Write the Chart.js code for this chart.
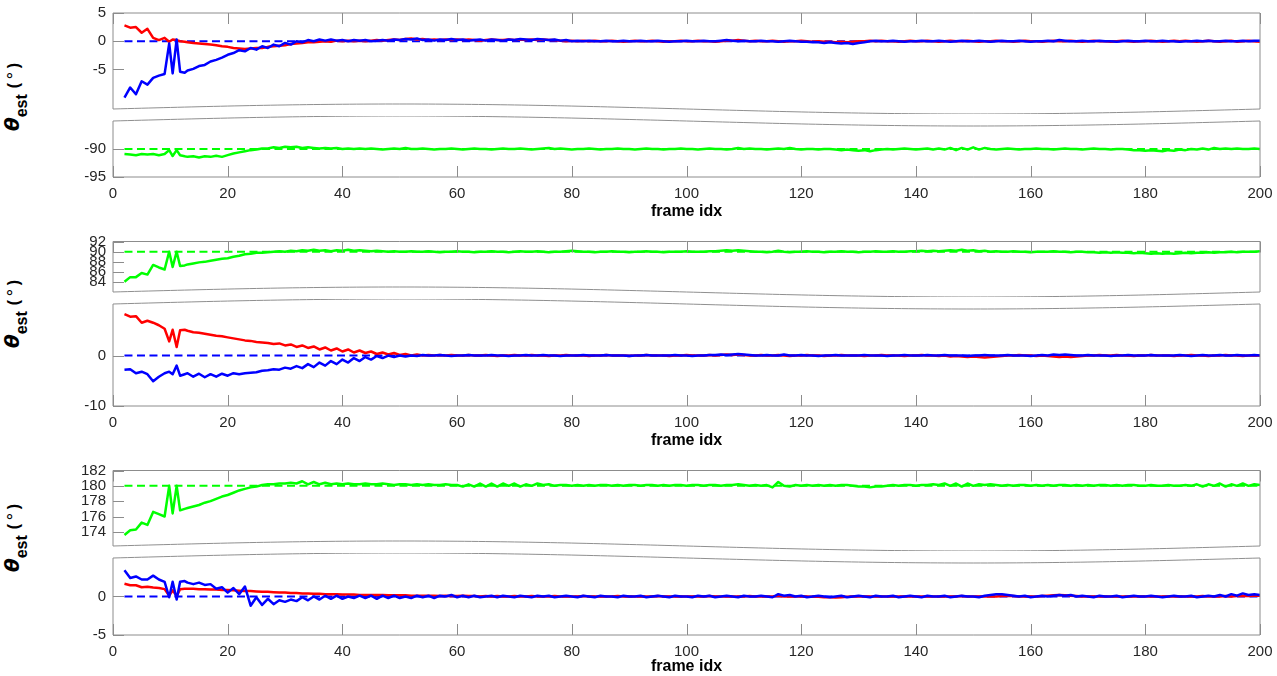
<!DOCTYPE html>
<html>
<head>
<meta charset="utf-8">
<script src="https://cdn.jsdelivr.net/npm/chart.js@4.4.1/dist/chart.umd.min.js"></script>
<style>
  html, body { margin: 0; padding: 0; background: #fff; overflow: hidden; }
  body { width: 1277px; height: 676px; position: relative; }
  canvas { position: absolute; left: 0; }
  .ylab {
    position: absolute;
    transform: translate(-50%, -50%) rotate(-90deg);
    white-space: nowrap;
    line-height: 22px;
    font: bold 20px 'DejaVu Sans', sans-serif;
    color: #000;
  }
  .ylab .th { font-style: italic; }
  .ylab .sb { font: bold 16px 'Liberation Sans', Arial, sans-serif; position: relative; top: 8px; }
  .ylab .pr { font: bold 16px 'Liberation Sans', Arial, sans-serif; margin-left: 6px; }
  .ylab .dg { font: 17px 'DejaVu Sans', sans-serif; position: relative; top: -4px; margin: 0 2px; }
</style>
</head>
<body>
<div class="ylab" style="left:12px;top:97px"><span class="th">θ</span><span class="sb">est</span><span class="pr">(<span class="dg">∘</span>)</span></div>
<div class="ylab" style="left:12px;top:314px"><span class="th">θ</span><span class="sb">est</span><span class="pr">(<span class="dg">∘</span>)</span></div>
<div class="ylab" style="left:12px;top:538px"><span class="th">θ</span><span class="sb">est</span><span class="pr">(<span class="dg">∘</span>)</span></div>
<script>
// frame index of every sample (a few extra samples around the spike at 10-12)
const frames = [2, 3, 4, 5, 6, 7, 8, 9, 9.8, 10.4, 11.1, 11.7, 12.5];
for (let f = 13; f <= 200; f++) frames.push(f);
const refFrames = [2, 200];
const xTicks = [0, 20, 40, 60, 80, 100, 120, 140, 160, 180, 200];

// reference (ground truth) levels, upper / lower part of each panel
const p1Refs = [0, -90];
const p2Refs = [90, 0];
const p3Refs = [180, 0];

// tick labels
const p1UpperTicks = [-5, 0, 5];
const p1LowerTicks = [-95, -90];
const p2UpperTicks = [84, 86, 88, 90, 92];
const p2LowerTicks = [-10, 0];
const p3UpperTicks = [174, 176, 178, 180, 182];
const p3LowerTicks = [-5, 0];

// panel 1
const p1Red = [
  2.8, 2.4, 2.5, 1.5, 2.2, 0.6, 0.2, 0.6, -0.1, 0.3, 0.2, 0.0, -0.1,
  -0.2, -0.3, -0.4, -0.5, -0.6, -0.7, -0.9, -1.0, -1.2, -1.3,
  -1.4, -1.3, -1.2, -1.2, -1.0, -0.9, -0.8, -0.7, -0.5, -0.4,
  -0.3, -0.2, -0.2, -0.1, 0.0, -0.1, 0.1, 0.0, 0.1, 0.0,
  0.1, 0.0, 0.1, 0.2, 0.1, 0.2, 0.3, 0.2, 0.4, 0.5,
  0.3, 0.4, 0.2, 0.3, 0.2, 0.3, 0.2, 0.3, 0.2, 0.3,
  0.2, 0.1, 0.2, 0.3, 0.2, 0.2, 0.3, 0.2, 0.3, 0.2,
  0.3, 0.2, 0.3, 0.2, 0.2, 0.1, 0.0, 0.1, 0.0, 0.1,
  0.0, 0.1, 0.0, 0.0, 0.1, 0.0, -0.1, 0.0, 0.1, 0.0,
  0.0, 0.1, 0.0, -0.1, 0.0, 0.0, 0.1, 0.0, 0.0, 0.1,
  0.0, 0.0, -0.1, 0.0, 0.1, 0.1, 0.2, 0.1, 0.0, 0.1,
  0.0, 0.0, 0.1, 0.0, -0.1, 0.0, 0.0, 0.1, 0.0, -0.1,
  0.0, -0.1, -0.1, -0.2, -0.1, -0.2, -0.1, 0.0, 0.0, 0.1,
  0.0, 0.1, 0.0, 0.0, -0.1, 0.0, 0.1, 0.0, 0.0, 0.1,
  0.0, -0.1, 0.0, 0.1, 0.0, 0.0, 0.1, 0.0, -0.1, 0.0,
  0.0, 0.1, 0.0, 0.0, -0.1, 0.0, 0.1, 0.0, 0.0, -0.1,
  0.0, 0.1, 0.0, 0.0, 0.1, 0.0, -0.1, 0.0, 0.1, 0.0,
  0.0, -0.1, 0.0, 0.1, 0.0, -0.1, 0.0, 0.0, 0.1, 0.0,
  -0.1, 0.0, 0.1, 0.0, 0.1, 0.0, -0.1, 0.0, 0.1, 0.0,
  -0.1, 0.0, 0.1, -0.1, 0.0, 0.1, 0.0, -0.1
];
const p1Blue = [
  -10.0, -8.2, -9.4, -7.1, -7.7, -6.5, -6.1, -5.8, -0.4, -5.7, 0.3, -5.4, -5.6,
  -5.2, -4.9, -4.4, -4.2, -3.6, -3.3, -2.9, -2.4, -2.1, -1.6,
  -1.8, -1.2, -1.5, -0.9, -1.2, -0.6, -0.9, -0.3, -0.6, 0.0,
  -0.2, 0.2, 0.0, 0.3, 0.1, 0.3, 0.1, 0.2, 0.0, 0.2,
  0.1, 0.2, 0.0, 0.1, 0.2, 0.1, 0.3, 0.2, 0.4, 0.3,
  0.5, 0.2, 0.3, 0.1, 0.3, 0.2, 0.4, 0.2, 0.3, 0.1,
  0.2, 0.3, 0.1, 0.3, 0.2, 0.1, 0.3, 0.2, 0.4, 0.3,
  0.2, 0.4, 0.3, 0.2, 0.3, 0.1, 0.2, 0.0, 0.1, 0.0,
  0.1, 0.0, 0.0, 0.1, 0.0, 0.0, 0.1, 0.0, 0.0, 0.1,
  0.0, 0.0, 0.1, 0.0, -0.1, 0.0, 0.0, 0.1, 0.0, 0.0,
  0.1, 0.0, 0.0, 0.1, 0.2, 0.1, 0.0, 0.1, 0.0, 0.0,
  0.1, 0.0, 0.0, -0.1, 0.0, 0.1, 0.0, -0.1, -0.1, -0.2,
  -0.2, -0.3, -0.2, -0.3, -0.4, -0.3, -0.5, -0.3, -0.2, 0.0,
  0.1, 0.0, 0.0, 0.1, 0.0, -0.1, 0.0, 0.0, 0.1, 0.0,
  0.0, 0.1, 0.0, -0.1, 0.0, 0.1, 0.0, 0.0, 0.1, 0.0,
  -0.1, 0.0, 0.1, 0.0, 0.0, 0.1, 0.0, -0.1, 0.0, 0.0,
  0.1, 0.0, 0.2, 0.1, 0.0, 0.0, 0.1, 0.0, 0.0, 0.1,
  0.0, 0.0, -0.1, 0.0, 0.1, 0.0, 0.0, 0.1, 0.0, 0.0,
  0.1, 0.0, 0.0, -0.1, 0.0, 0.0, 0.1, 0.0, 0.1, 0.0,
  0.0, 0.1, 0.0, 0.0, 0.1, 0.0, 0.1, 0.1
];
const p1Green = [
  -90.9, -91.0, -91.1, -90.9, -91.0, -90.9, -91.1, -90.9, -90.2, -91.25, -90.2, -91.1, -91.3,
  -91.4, -91.3, -91.5, -91.3, -91.4, -91.2, -91.4, -91.1, -90.8, -90.6,
  -90.4, -90.2, -90.1, -89.9, -89.9, -89.7, -89.8, -89.6, -89.7, -89.6,
  -89.8, -89.7, -89.8, -89.9, -89.8, -89.9, -89.8, -90.0, -89.9, -90.0,
  -89.9, -90.0, -89.9, -90.0, -90.1, -90.0, -89.9, -90.0, -89.8, -90.0,
  -90.0, -89.9, -90.0, -90.1, -90.0, -90.0, -89.9, -90.0, -90.1, -90.0,
  -89.9, -90.0, -90.0, -90.1, -90.0, -89.9, -90.0, -90.0, -89.9, -90.0,
  -90.1, -90.0, -89.9, -89.8, -90.0, -89.9, -90.0, -90.1, -90.0, -90.0,
  -89.9, -90.0, -90.1, -90.0, -90.0, -89.9, -90.0, -90.0, -90.1, -90.0,
  -89.9, -90.0, -90.0, -90.1, -90.0, -90.0, -89.9, -90.0, -90.0, -90.1,
  -90.0, -89.9, -90.0, -90.0, -90.1, -90.0, -89.8, -90.0, -89.9, -90.0,
  -90.0, -90.1, -90.0, -89.9, -90.0, -89.8, -90.0, -90.1, -90.0, -90.0,
  -90.1, -90.0, -90.0, -90.1, -90.2, -90.1, -90.2, -90.3, -90.2, -90.4,
  -90.2, -90.1, -90.0, -90.1, -90.0, -89.9, -90.0, -90.1, -90.0, -89.9,
  -90.1, -89.9, -90.1, -89.8, -90.2, -89.8, -90.1, -89.7, -90.1, -89.8,
  -90.0, -90.1, -90.0, -89.9, -90.0, -90.1, -90.0, -90.0, -89.9, -90.0,
  -90.0, -90.1, -90.0, -89.9, -90.0, -90.0, -90.1, -90.0, -89.9, -90.0,
  -90.0, -90.1, -90.0, -90.0, -90.1, -90.2, -90.2, -90.3, -90.2, -90.3,
  -90.4, -90.2, -90.3, -90.1, -90.2, -90.0, -90.1, -89.9, -90.1, -89.8,
  -90.0, -89.9, -90.0, -89.9, -90.0, -90.0, -89.9, -90.0
];

// panel 2
const p2Green = [
  84.1, 85.0, 85.0, 85.8, 85.5, 87.4, 86.9, 86.5, 90.0, 87.0, 90.0, 87.2, 87.3,
  87.5, 87.7, 87.9, 88.0, 88.2, 88.4, 88.6, 88.7, 89.0, 89.2,
  89.5, 89.6, 89.8, 89.8, 89.9, 90.0, 90.1, 90.0, 90.2, 90.1,
  90.3, 90.2, 90.4, 90.2, 90.3, 90.1, 90.3, 90.2, 90.4, 90.2,
  90.3, 90.2, 90.1, 90.2, 90.1, 90.0, 90.1, 90.0, 90.0, 90.1,
  90.0, 90.0, 90.1, 90.0, 89.9, 90.0, 90.0, 90.1, 90.0, 90.0,
  89.9, 90.0, 90.0, 90.1, 90.0, 90.0, 89.9, 90.0, 90.1, 90.0,
  90.0, 90.1, 90.0, 89.9, 90.0, 90.0, 90.1, 90.2, 90.1, 90.0,
  90.0, 89.9, 90.0, 90.0, 90.1, 90.0, 90.0, 89.9, 90.0, 90.0,
  90.1, 90.0, 90.0, 89.9, 90.0, 90.0, 90.0, 90.1, 90.0, 90.0,
  90.0, 90.1, 90.1, 90.2, 90.3, 90.2, 90.3, 90.2, 90.1, 90.0,
  90.0, 89.9, 90.0, 90.2, 90.0, 89.9, 90.0, 90.0, 90.1, 90.0,
  90.0, 89.9, 90.0, 90.0, 90.1, 90.0, 90.0, 89.9, 90.0, 90.0,
  90.1, 90.0, 90.0, 90.1, 90.0, 90.0, 90.1, 90.1, 90.2, 90.1,
  90.2, 90.1, 90.2, 90.3, 90.2, 90.4, 90.2, 90.3, 90.1, 90.2,
  90.0, 90.1, 90.0, 90.0, 90.1, 90.0, 90.0, 89.9, 90.0, 90.0,
  90.0, 90.1, 90.0, 90.0, 89.9, 90.0, 90.0, 89.9, 89.9, 89.8,
  89.9, 89.8, 89.9, 89.8, 89.8, 89.7, 89.8, 89.7, 89.6, 89.7,
  89.6, 89.7, 89.6, 89.7, 89.8, 89.7, 89.8, 89.8, 89.9, 89.8,
  89.9, 89.9, 90.0, 89.9, 90.0, 90.0, 90.0, 90.1
];
const p2Red = [
  8.2, 7.7, 7.8, 6.5, 6.9, 6.5, 6.0, 5.3, 2.8, 5.1, 1.7, 5.0, 5.1,
  4.9, 4.6, 4.5, 4.3, 4.1, 3.9, 3.8, 3.6, 3.4, 3.2,
  3.0, 2.9, 2.7, 2.6, 2.5, 2.3, 2.4, 2.0, 2.2, 1.7,
  2.0, 1.5, 1.8, 1.2, 1.6, 1.0, 1.4, 0.8, 1.2, 0.6,
  1.0, 0.5, 0.8, 0.3, 0.6, 0.2, 0.5, 0.1, 0.3, 0.0,
  0.2, 0.0, 0.1, 0.0, 0.1, 0.0, 0.1, 0.0, 0.0, 0.1,
  0.0, 0.0, 0.1, 0.0, -0.1, 0.0, 0.0, 0.1, 0.0, 0.0,
  0.1, 0.0, 0.0, -0.1, 0.0, 0.0, 0.1, 0.0, 0.0, 0.0,
  -0.1, 0.0, 0.0, 0.1, 0.0, 0.0, 0.0, -0.1, 0.0, 0.0,
  0.1, 0.0, 0.0, 0.0, -0.1, 0.0, 0.0, 0.1, 0.0, 0.0,
  0.0, 0.1, 0.0, 0.1, 0.2, 0.1, 0.2, 0.1, 0.0, 0.0,
  0.1, 0.0, 0.0, 0.1, 0.0, -0.1, 0.0, 0.0, 0.1, 0.0,
  0.0, -0.1, 0.0, 0.0, 0.1, 0.0, 0.0, 0.0, -0.1, 0.0,
  0.0, 0.1, 0.0, 0.0, 0.0, -0.1, 0.0, 0.0, 0.1, 0.0,
  0.0, -0.1, 0.0, -0.2, -0.1, -0.2, -0.3, -0.2, -0.3, -0.4,
  -0.3, -0.2, -0.1, 0.0, 0.0, 0.1, 0.0, 0.0, -0.1, 0.0,
  -0.1, -0.2, -0.3, -0.2, -0.3, -0.2, -0.1, 0.0, 0.0, 0.1,
  0.0, 0.0, 0.1, 0.0, 0.0, -0.1, 0.0, 0.0, 0.1, 0.0,
  0.0, 0.0, -0.1, 0.0, 0.0, 0.1, 0.0, 0.0, -0.1, 0.0,
  0.0, 0.1, 0.0, 0.0, -0.1, 0.0, 0.0, 0.0
];
const p2Blue = [
  -2.8, -2.7, -3.5, -3.2, -3.7, -5.1, -4.2, -3.5, -3.2, -3.7, -2.0, -4.0, -3.7,
  -3.5, -4.2, -3.6, -4.3, -3.7, -4.2, -3.6, -4.0, -3.5, -3.7,
  -3.5, -3.4, -3.3, -3.0, -2.9, -2.7, -2.8, -2.4, -2.6, -2.1,
  -2.5, -1.7, -2.3, -1.4, -2.0, -1.1, -1.7, -0.8, -1.4, -0.5,
  -1.1, -0.3, -0.8, -0.1, -0.5, 0.0, -0.3, 0.0, -0.2, 0.0,
  -0.1, 0.1, 0.0, 0.0, 0.1, 0.0, -0.1, 0.0, 0.0, 0.1,
  0.0, 0.0, 0.0, 0.1, 0.0, 0.0, -0.1, 0.0, 0.0, 0.1,
  0.0, 0.0, 0.1, 0.0, 0.0, -0.1, 0.0, 0.0, 0.0, 0.1,
  0.0, 0.0, 0.0, 0.1, 0.0, 0.0, 0.0, -0.1, 0.0, 0.0,
  0.1, 0.0, 0.0, 0.0, 0.0, 0.1, 0.0, 0.0, -0.1, 0.0,
  0.0, 0.1, 0.1, 0.2, 0.1, 0.2, 0.3, 0.2, 0.1, 0.0,
  0.0, 0.1, 0.0, 0.0, 0.2, 0.0, 0.0, 0.1, 0.0, 0.0,
  -0.1, 0.0, 0.0, 0.1, 0.0, 0.0, 0.0, 0.0, 0.1, 0.0,
  0.0, 0.0, -0.1, 0.0, 0.0, 0.1, 0.0, 0.0, 0.0, 0.1,
  0.0, 0.0, 0.1, 0.0, 0.0, 0.0, -0.1, 0.0, 0.0, 0.1,
  0.0, 0.0, 0.0, 0.1, 0.0, 0.0, 0.0, -0.1, 0.0, 0.1,
  0.0, 0.2, 0.1, 0.2, 0.1, 0.0, 0.0, 0.1, 0.0, 0.0,
  0.0, -0.1, 0.0, 0.0, 0.1, 0.0, 0.0, 0.0, 0.1, 0.0,
  0.0, 0.0, 0.0, 0.1, 0.0, -0.1, 0.0, 0.1, 0.0, 0.0,
  0.1, 0.0, 0.0, 0.1, 0.0, 0.0, 0.1, 0.0
];

// panel 3
const p3Green = [
  173.6, 174.2, 174.3, 175.2, 174.9, 176.6, 176.3, 176.0, 180.0, 176.4, 180.0, 176.8, 177.0,
  177.1, 177.3, 177.5, 177.8, 178.0, 178.3, 178.6, 178.8, 179.1, 179.4,
  179.6, 179.8, 179.9, 180.1, 180.2, 180.2, 180.3, 180.3, 180.4, 180.3,
  180.6, 180.2, 180.5, 180.2, 180.4, 180.2, 180.3, 180.2, 180.3, 180.2,
  180.2, 180.3, 180.2, 180.2, 180.3, 180.2, 180.1, 180.2, 180.2, 180.1,
  180.2, 180.1, 180.2, 180.1, 180.1, 180.2, 180.1, 180.1, 179.9, 180.2,
  179.9, 180.3, 179.9, 180.3, 179.9, 180.3, 180.0, 180.3, 179.9, 180.2,
  180.0, 180.3, 180.1, 180.2, 180.0, 180.1, 180.1, 180.0, 180.1, 180.0,
  180.1, 180.0, 180.1, 180.1, 180.0, 180.1, 180.0, 180.1, 180.1, 180.0,
  180.1, 180.1, 180.0, 180.1, 180.0, 180.1, 180.1, 180.0, 180.1, 180.1,
  180.0, 180.1, 180.1, 180.0, 180.1, 180.1, 180.2, 180.1, 180.0, 180.1,
  180.0, 180.1, 179.8, 180.5, 180.0, 179.9, 180.1, 180.0, 180.1, 180.0,
  180.1, 180.0, 180.1, 180.0, 180.1, 180.1, 180.0, 179.9, 179.9, 179.8,
  179.9, 179.9, 180.0, 180.1, 180.0, 180.1, 180.1, 180.0, 180.1, 180.1,
  180.2, 180.1, 180.3, 180.0, 180.3, 179.9, 180.3, 180.0, 180.2, 180.1,
  180.2, 180.1, 180.0, 180.1, 180.0, 180.1, 180.1, 180.0, 180.1, 180.0,
  180.1, 180.0, 180.1, 180.1, 180.0, 180.1, 180.0, 180.1, 180.0, 180.1,
  180.1, 180.0, 180.1, 180.0, 180.1, 180.1, 180.0, 180.0, 180.1, 180.0,
  180.0, 180.1, 180.0, 180.0, 180.1, 180.0, 180.2, 179.9, 180.2, 180.0,
  180.3, 179.9, 180.2, 180.0, 180.3, 180.0, 180.2, 180.1
];
const p3Red = [
  1.65, 1.45, 1.45, 1.2, 1.25, 1.15, 1.1, 0.95, 0.1, 0.8, 0.05, 0.95, 1.0,
  1.0, 1.0, 0.95, 0.95, 0.9, 0.9, 0.85, 0.85, 0.8, 0.75,
  0.7, 0.7, 0.65, 0.6, 0.6, 0.55, 0.5, 0.5, 0.45, 0.45,
  0.4, 0.4, 0.35, 0.35, 0.3, 0.3, 0.3, 0.25, 0.25, 0.25,
  0.2, 0.2, 0.2, 0.2, 0.2, 0.15, 0.15, 0.15, 0.15, 0.1,
  0.1, 0.1, 0.1, 0.1, 0.05, 0.1, 0.05, 0.05, 0.1, 0.05,
  0.05, 0.0, 0.05, 0.0, 0.05, 0.0, 0.0, 0.05, 0.0, 0.0,
  0.05, 0.0, 0.0, 0.0, 0.05, 0.0, 0.0, 0.0, 0.0, 0.05,
  0.0, 0.0, 0.0, 0.0, 0.0, 0.05, 0.0, 0.0, 0.0, 0.0,
  0.0, 0.0, 0.05, 0.0, 0.0, 0.0, 0.0, 0.0, 0.0, 0.0,
  0.0, 0.05, 0.0, 0.0, 0.0, 0.0, 0.0, 0.0, 0.05, 0.0,
  0.0, 0.0, 0.0, 0.1, 0.0, 0.0, 0.0, 0.0, 0.0, -0.05,
  -0.05, -0.1, -0.1, -0.15, -0.1, -0.05, 0.0, 0.0, 0.0, 0.0,
  0.0, 0.0, 0.0, 0.0, 0.0, 0.0, 0.0, 0.0, 0.0, 0.0,
  0.0, 0.0, 0.0, 0.0, 0.0, 0.05, 0.0, 0.0, 0.0, 0.0,
  0.0, 0.0, 0.05, 0.1, 0.05, 0.0, 0.0, 0.0, 0.0, 0.05,
  0.1, 0.15, 0.2, 0.15, 0.1, 0.05, 0.0, 0.0, 0.0, 0.0,
  0.0, 0.0, 0.0, 0.0, 0.0, 0.0, 0.0, 0.0, 0.0, 0.0,
  0.0, 0.0, 0.0, 0.0, 0.0, 0.0, 0.0, 0.05, 0.0, 0.0,
  0.0, 0.05, 0.0, 0.05, 0.1, 0.05, 0.1, 0.1
];
const p3Blue = [
  3.4, 2.4, 2.6, 2.2, 2.2, 2.7, 2.2, 1.9, -0.1, 1.9, -0.4, 1.9, 2.0,
  1.8, 1.6, 1.8, 1.5, 1.6, 1.0, 1.2, 0.5, 1.1, 0.3,
  1.3, -1.2, -0.1, -1.1, -0.3, -1.0, -0.5, -0.7, -0.4, -0.6,
  -0.1, -0.5, 0.0, -0.4, 0.1, -0.3, 0.1, -0.3, 0.0, -0.2,
  0.1, -0.2, 0.1, -0.3, 0.1, -0.2, 0.1, -0.2, 0.0, -0.2,
  0.1, -0.1, 0.1, -0.2, 0.1, 0.0, 0.2, -0.1, 0.1, -0.1,
  0.1, -0.1, 0.0, 0.1, -0.1, 0.1, 0.0, -0.1, 0.1, 0.0,
  -0.1, 0.1, 0.0, 0.1, -0.1, 0.0, 0.1, 0.0, -0.1, 0.1,
  0.0, -0.1, 0.1, 0.0, 0.0, -0.1, 0.1, 0.0, 0.0, 0.1,
  -0.1, 0.0, 0.1, 0.0, -0.1, 0.1, 0.0, 0.0, -0.1, 0.1,
  0.0, 0.1, -0.1, 0.0, 0.1, 0.0, -0.1, 0.1, 0.0, 0.0,
  0.1, 0.0, -0.1, 0.3, 0.1, 0.2, 0.0, 0.1, -0.1, 0.0,
  0.1, 0.0, -0.1, 0.0, 0.1, -0.1, 0.0, 0.1, 0.0, -0.1,
  0.1, 0.0, 0.0, 0.1, -0.1, 0.0, 0.1, 0.0, -0.1, 0.1,
  0.0, 0.0, 0.1, -0.1, 0.0, 0.1, 0.0, 0.0, -0.1, 0.1,
  0.2, 0.3, 0.3, 0.2, 0.1, 0.0, 0.1, -0.1, 0.0, 0.1,
  0.0, 0.1, 0.2, 0.1, 0.2, 0.0, 0.1, 0.0, -0.1, 0.1,
  0.0, 0.0, 0.1, -0.1, 0.0, 0.1, 0.0, 0.0, 0.1, 0.0,
  -0.1, 0.0, 0.1, 0.0, 0.0, 0.1, -0.1, 0.0, 0.1, 0.0,
  0.2, 0.0, 0.3, 0.1, 0.4, 0.2, 0.3, 0.2
];

const RED = '#ff0000', BLUE = '#0000ff', GREEN = '#00ff00';
const FONT = "'Liberation Sans', Arial, Helvetica, sans-serif";
const AXIS_GRAY = '#8c8c8c';
const AREA_LEFT = 113, AREA_RIGHT_PAD = 17, TICK_LEN = 11, WAVE_AMP = 5;

// draws the axes box, inward ticks and the wavy break edge
const framePlugin = {
  id: 'frame',
  afterDatasetsDraw(chart, args, opts) {
    const { ctx, chartArea: a } = chart;
    const xs = chart.scales.x, ys = chart.scales.y;
    const w = a.right - a.left;
    const steps = 160;
    const waveY = (c, i) => c - WAVE_AMP * Math.sin(2 * Math.PI * i / steps);
    const upper = opts.wave === 'bottom';
    const c = upper ? a.bottom - WAVE_AMP : a.top + WAVE_AMP;

    ctx.save();
    // white cut-out beyond the break line
    ctx.beginPath();
    ctx.moveTo(a.left - 1, upper ? a.bottom + 2 : a.top - 2);
    for (let i = 0; i <= steps; i++) ctx.lineTo(a.left + w * i / steps, waveY(c, i));
    ctx.lineTo(a.right + 1, upper ? a.bottom + 2 : a.top - 2);
    ctx.closePath();
    ctx.fillStyle = '#fff';
    ctx.fill();

    ctx.strokeStyle = AXIS_GRAY;
    ctx.lineWidth = 1;
    // straight edges
    ctx.beginPath();
    if (upper) {
      ctx.moveTo(a.left, c);
      ctx.lineTo(a.left, a.top);
      ctx.lineTo(a.right, a.top);
      ctx.lineTo(a.right, c);
    } else {
      ctx.moveTo(a.left, c);
      ctx.lineTo(a.left, a.bottom);
      ctx.lineTo(a.right, a.bottom);
      ctx.lineTo(a.right, c);
    }
    ctx.stroke();
    // wavy edge
    ctx.beginPath();
    for (let i = 0; i <= steps; i++) {
      const px = a.left + w * i / steps;
      if (i === 0) ctx.moveTo(px, waveY(c, i)); else ctx.lineTo(px, waveY(c, i));
    }
    ctx.strokeStyle = '#8f8f8f';
    ctx.stroke();

    // inward tick marks
    ctx.strokeStyle = AXIS_GRAY;
    ctx.beginPath();
    xTicks.forEach(v => {
      const px = Math.round(xs.getPixelForValue(v)) + 0.5;
      if (upper) { ctx.moveTo(px, a.top); ctx.lineTo(px, a.top + TICK_LEN); }
      else { ctx.moveTo(px, a.bottom); ctx.lineTo(px, a.bottom - TICK_LEN); }
    });
    opts.yTicks.forEach(v => {
      const py = Math.round(ys.getPixelForValue(v)) + 0.5;
      ctx.moveTo(a.left, py);
      ctx.lineTo(a.left + TICK_LEN, py);
    });
    ctx.stroke();
    ctx.restore();
  }
};

const panels = [
  { top: 0, height: 114, padTop: 13, xAxis: 0, yMin: -12.9, yMax: 5, yTicks: p1UpperTicks, wave: 'bottom',
    series: [[p1Blue, BLUE], [p1Red, RED]], refs: [[p1Refs[0], BLUE]] },
  { top: 116, height: 105, padTop: 0, xAxis: 44, yMin: -95, yMax: -84.1, yTicks: p1LowerTicks, wave: 'top',
    series: [[p1Green, GREEN]], refs: [[p1Refs[1], GREEN]] },
  { top: 221, height: 76, padTop: 20.5, xAxis: 0, yMin: 81.1, yMax: 92, yTicks: p2UpperTicks, wave: 'bottom',
    series: [[p2Green, GREEN]], refs: [[p2Refs[0], GREEN]] },
  { top: 299, height: 151, padTop: 0, xAxis: 44, yMin: -10, yMax: 11.2, yTicks: p2LowerTicks, wave: 'top',
    series: [[p2Blue, BLUE], [p2Red, RED]], refs: [[p2Refs[1], BLUE]] },
  { top: 450, height: 101, padTop: 20.5, xAxis: 0, yMin: 171.5, yMax: 182, yTicks: p3UpperTicks, wave: 'bottom',
    series: [[p3Green, GREEN]], refs: [[p3Refs[0], GREEN]] },
  { top: 553, height: 123, padTop: 0, xAxis: 41, yMin: -5, yMax: 5.64, yTicks: p3LowerTicks, wave: 'top',
    series: [[p3Blue, BLUE], [p3Red, RED]], refs: [[p3Refs[1], BLUE]] }
];

function makePanel(spec) {
  const canvas = document.createElement('canvas');
  canvas.width = 1277;
  canvas.height = spec.height;
  canvas.style.top = spec.top + 'px';
  document.body.appendChild(canvas);

  const datasets = [];
  spec.series.forEach(([values, color]) => {
    datasets.push({
      data: frames.map((f, i) => ({ x: f, y: values[i] })),
      borderColor: color,
      borderWidth: 2.5,
      borderJoinStyle: 'round',
      pointRadius: 0,
      tension: 0
    });
  });
  spec.refs.forEach(([level, color]) => {
    datasets.push({
      data: refFrames.map(f => ({ x: f, y: level })),
      borderColor: color,
      borderWidth: 2,
      borderDash: [8, 4.5],
      pointRadius: 0
    });
  });

  new Chart(canvas, {
    type: 'line',
    data: { datasets },
    options: {
      responsive: false,
      animation: false,
      events: [],
      layout: { padding: { top: spec.padTop, right: AREA_RIGHT_PAD, bottom: 0, left: 0 } },
      plugins: {
        legend: { display: false },
        tooltip: { enabled: false },
        frame: { wave: spec.wave, yTicks: spec.yTicks }
      },
      scales: {
        x: {
          type: 'linear',
          min: 0,
          max: 200,
          display: spec.xAxis > 0,
          grid: { display: false, drawTicks: false },
          border: { display: false },
          afterBuildTicks: s => { s.ticks = xTicks.map(v => ({ value: v })); },
          afterFit: s => { s.height = spec.xAxis; s.paddingLeft = 0; s.paddingRight = 0; },
          ticks: { padding: 8, maxRotation: 0, autoSkip: false, color: '#262626', font: { family: FONT, size: 15 } },
          title: {
            display: true,
            text: 'frame idx',
            color: '#000',
            padding: { top: 0, bottom: 0 },
            font: { family: FONT, size: 16, weight: 'bold' }
          }
        },
        y: {
          type: 'linear',
          min: spec.yMin,
          max: spec.yMax,
          grid: { display: false, drawTicks: false },
          border: { display: false },
          afterBuildTicks: s => { s.ticks = spec.yTicks.map(v => ({ value: v })); },
          afterFit: s => { s.width = AREA_LEFT; s.paddingTop = 0; s.paddingBottom = 0; },
          ticks: { padding: 7, autoSkip: false, color: '#262626', font: { family: FONT, size: 15 } }
        }
      }
    },
    plugins: [framePlugin]
  });
}

panels.forEach(makePanel);
</script>
</body>
</html>
